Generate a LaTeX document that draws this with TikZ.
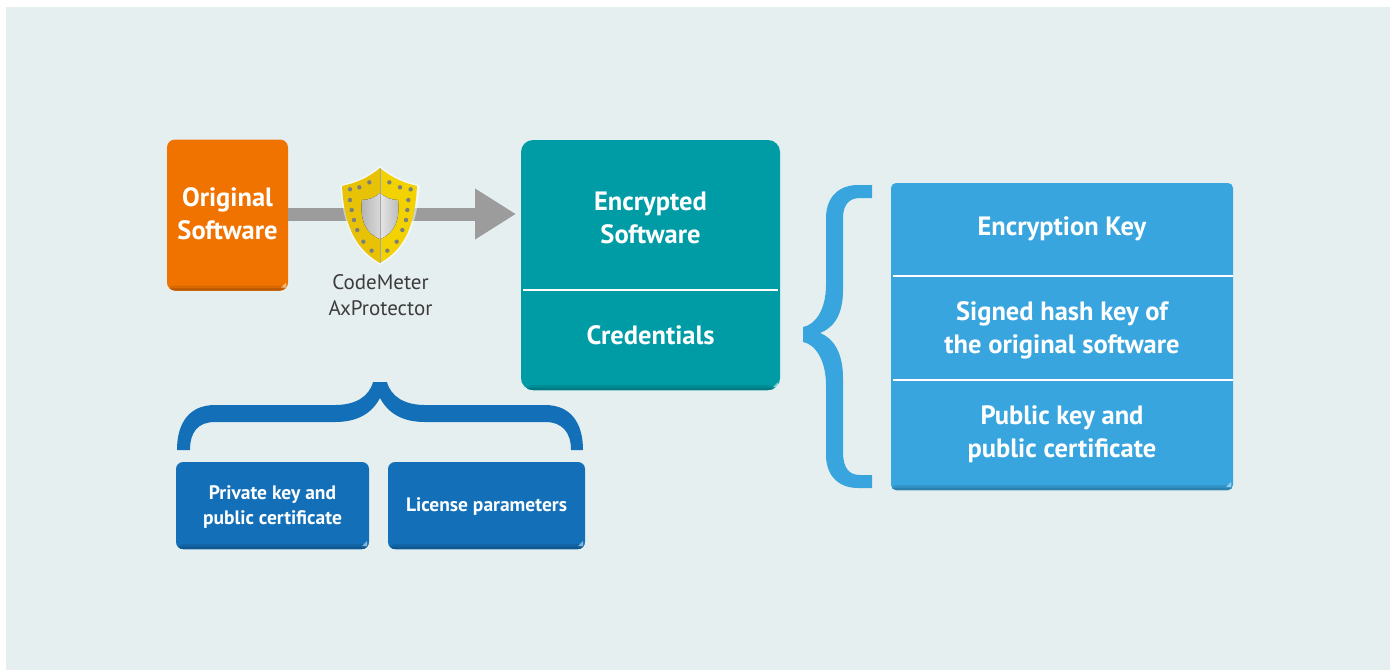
\documentclass[tikz,border=0pt]{standalone}
\usepackage{fontspec}
\setmainfont{PT Sans}
\usetikzlibrary{arrows.meta,calc}
\definecolor{panelbg}{HTML}{E6EFF0}
\definecolor{orangebox}{HTML}{F07300}
\definecolor{tealbox}{HTML}{009CA6}
\definecolor{skybox}{HTML}{38A5DF}
\definecolor{bluebox}{HTML}{1370B8}
\definecolor{arrowgray}{HTML}{9C9C9C}
\definecolor{shieldA}{HTML}{E8C206}
\definecolor{shieldB}{HTML}{F2D200}
\definecolor{rivet}{HTML}{7F7F78}
\definecolor{labelgray}{HTML}{3C3C3C}
\tikzset{
  x=1pt,y=-1pt,
  box/.style n args={4}{draw=none,rounded corners=#4,fill=#1,inner sep=0pt,outer sep=0pt,
    minimum width=#2,minimum height=#3,
    path picture={
      \fill[#1!90!black] ([yshift=-1pt]path picture bounding box.south west) rectangle ([yshift=5pt]path picture bounding box.south east);
      \fill[#1!78!black] ([yshift=-1pt]path picture bounding box.south west) rectangle ([yshift=2.5pt]path picture bounding box.south east);}},
  big/.style={text=white,font=\fontsize{26.5}{33}\selectfont\bfseries,align=center,inner sep=0pt},
  small/.style={text=white,font=\fontsize{19.5}{25}\selectfont\bfseries,align=center,inner sep=0pt},
  caption/.style={text=labelgray,font=\fontsize{21}{26}\selectfont,align=center,inner sep=0pt},
  divider/.style={draw=white,line width=2.4pt},
  glint/.style={fill=white,opacity=.5},
}
\begin{document}
\begin{tikzpicture}
\useasboundingbox (0,0) rectangle (1394,670);
\fill[white] (0,0) rectangle (1394,670);
\fill[panelbg] (6,7) rectangle (1390,670);

% boxes
\node[box={orangebox}{121pt}{151pt}{8pt}] (orig) at (227.5,215) {};
\node[box={tealbox}{259pt}{250pt}{12pt}] (enc) at (650.5,265) {};
\node[box={skybox}{342pt}{307pt}{5pt}] (keys) at (1062,336.5) {};
\node[box={bluebox}{193pt}{87pt}{7pt}] (priv) at (272.5,505.5) {};
\node[box={bluebox}{197pt}{87pt}{7pt}] (lic) at (486.5,505.5) {};

% corner glints
\foreach \n in {orig,enc,keys,priv,lic}
  \fill[glint] ($(\n.south east)+(-2,-3)$) -- ($(\n.south east)+(-7,-3)$) -- ($(\n.south east)+(-2,-8)$) -- cycle;

% arrow
\draw[arrowgray,line width=13pt,-{Triangle[length=41pt,width=48pt]},shorten >=5pt]
  ([yshift=1pt]orig.east) -- ([yshift=1pt]orig.east -| enc.west);

% dividers
\coordinate (encL) at ($(enc.west)+(2,25)$);
\coordinate (encR) at ($(enc.east)+(-2,25)$);
\draw[divider] (encL) -- (encR);
\coordinate (keyL1) at (893,276);
\coordinate (keyR1) at (keys.east |- keyL1);
\coordinate (keyL2) at (893,380);
\coordinate (keyR2) at (keys.east |- keyL2);
\draw[divider] (keyL1) -- (keyR1);
\draw[divider] (keyL2) -- (keyR2);

% shield
\begin{scope}
  \fill[white,opacity=.5] (380,166) .. controls (368,176) and (355,182) .. (340,185)
     .. controls (343,220) and (350,248) .. (380,265)
     .. controls (410,248) and (417,220) .. (420,185)
     .. controls (405,182) and (392,176) .. (380,166) -- cycle;
  \fill[shieldA] (380,168) .. controls (368,178) and (356,183) .. (342,186)
     .. controls (344,220) and (352,247) .. (380,263) -- cycle;
  \fill[shieldB] (380,168) .. controls (392,178) and (404,183) .. (417,186)
     .. controls (415,220) and (408,247) .. (380,263) -- cycle;
  \fill[left color=gray!60,right color=gray!30] (380,193) .. controls (374,198) and (368,200) .. (362,200)
     .. controls (360,220) and (365,233) .. (380,239) -- cycle;
  \fill[left color=gray!20,right color=gray!55] (380,193) .. controls (386,198) and (392,200) .. (398,200)
     .. controls (400,220) and (395,233) .. (380,239) -- cycle;
  \draw[gray!70,line width=.6pt] (380,168) -- (380,263);
  \foreach \a/\b in {600/178,628/172,658/157,600/210,605/240,612/270,622/300,640/335,665/362,718/157,750/172,782/178,775/210,772/240,768/270,757/300,740/335,712/362}
    \fill[rivet] ({\a/3+150},{\b/3+130}) circle (2.2pt);
\end{scope}

% braces
\fill[bluebox] (177,450) -- (190,450) .. controls (190,432) and (198,422) .. (215,422)
  -- (335,422) .. controls (358,422) and (372,413) .. (380,398)
  .. controls (388,413) and (402,422) .. (425,422) -- (545,422)
  .. controls (562,422) and (571,432) .. (571,450) -- (583,450)
  .. controls (583,422) and (570,405) .. (545,405) -- (425,405)
  .. controls (405,405) and (391,397) .. (387,382) -- (373,382)
  .. controls (369,397) and (355,405) .. (335,405) -- (215,405)
  .. controls (190,405) and (177,422) .. (177,450) -- cycle;
\fill[skybox] (872,185) -- (872,198) -- (860,198) .. controls (849,198) and (843,205) .. (843,218)
  -- (843,290) .. controls (843,316) and (833,328) .. (820,333)
  .. controls (833,338) and (843,352) .. (843,378) -- (843,452)
  .. controls (843,468) and (849,475) .. (860,475) -- (872,475) -- (872,488) -- (858,488)
  .. controls (838,488) and (826,475) .. (826,455) -- (826,385)
  .. controls (826,360) and (815,344) .. (803,342) -- (803,327)
  .. controls (815,325) and (826,310) .. (826,285) -- (826,218)
  .. controls (826,198) and (838,185) .. (858,185) -- cycle;

% texts
\node[big] (t1) at (227.5,214) {Original\\Software};
\node[big] (t2) at (650.5,218) {Encrypted\\Software};
\node[big] (t3) at (650.5,335) {Credentials};
\node[big] (t4) at (1062,229) {Encryption Key};
\node[big] (t5) at (1062,330.5) {Signed hash key of\\the original software};
\node[big] (t6) at (1062,434.5) {Public key and\\public certificate};
\node[small] (t7) at (272.5,507) {Private key and\\public certificate};
\node[small] (t8) at (486.5,507) {License parameters};
\node[caption] (t9) at (380.5,295) {CodeMeter\\AxProtector};
\end{tikzpicture}
\end{document}
